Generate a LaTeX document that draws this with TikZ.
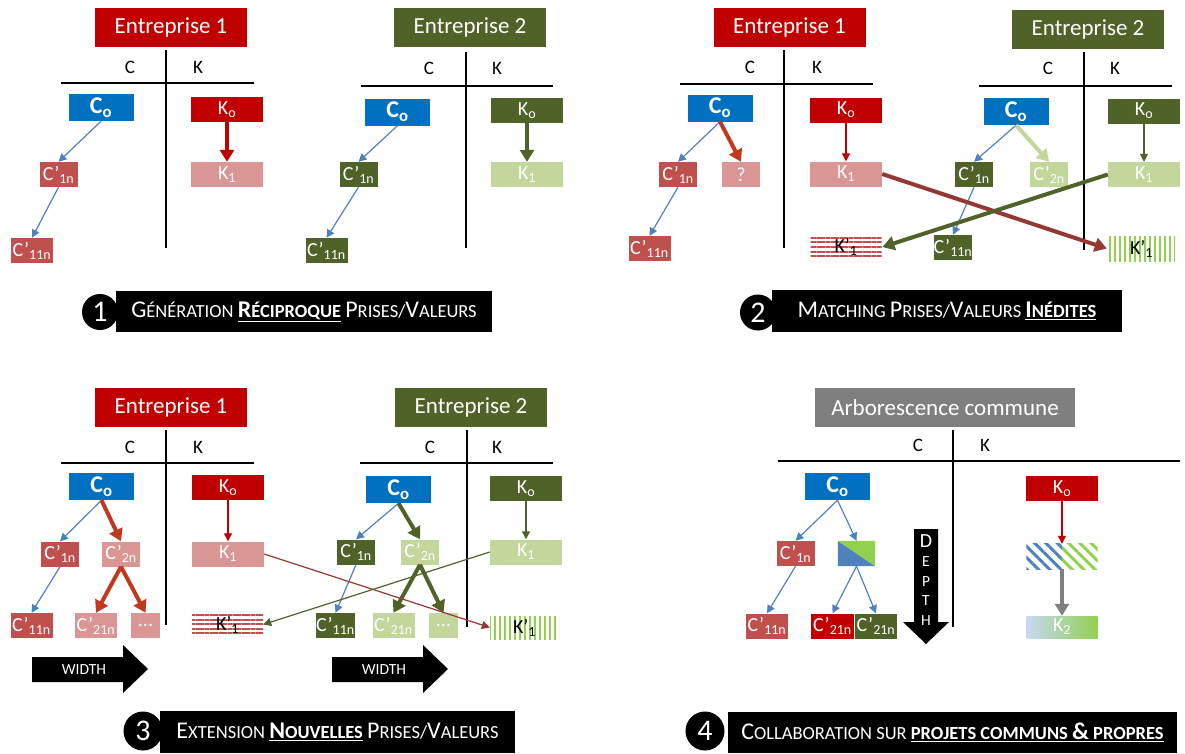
\documentclass[tikz,border=0pt]{standalone}
\usepackage{fontspec}
\setmainfont{Carlito}
\usetikzlibrary{arrows.meta,patterns.meta}

\definecolor{ered}{HTML}{C00000}
\definecolor{egreen}{HTML}{4F6228}
\definecolor{cblue}{HTML}{0070C0}
\definecolor{lred}{HTML}{C0504D}
\definecolor{lpink}{HTML}{D99694}
\definecolor{lgreen}{HTML}{C3D69B}
\definecolor{bgreen}{HTML}{92D050}
\definecolor{arrowblue}{HTML}{4F81BD}
\definecolor{dred}{HTML}{953735}
\definecolor{rust}{HTML}{C0391E}
\definecolor{kblue}{HTML}{C6D9F1}
\definecolor{tgray}{HTML}{7F7F7F}

% bigger first letter for the small caps captions
\newcommand{\capl}[1]{{\fontsize{24}{24}\selectfont #1}}

\begin{document}
\begin{tikzpicture}[x=1pt, y=-1pt,
    title_box/.style={minimum width=152pt, minimum height=39pt, inner sep=0pt, text=white, font=\fontsize{23}{23}\selectfont}, % Entreprise boxes
    co_box/.style={fill=cblue, minimum width=65pt, minimum height=27pt, inner sep=0pt, text=white, font=\bfseries\fontsize{24}{24}\selectfont}, % C_o boxes
    k_box/.style={minimum width=72pt, minimum height=25pt, inner sep=0pt, text=white, font=\fontsize{20}{20}\selectfont}, % K boxes
    c_box/.style={minimum width=38pt, minimum height=25pt, inner sep=0pt, text=white, font=\fontsize{20}{20}\selectfont}, % small C boxes
    w_box/.style={c_box, minimum width=42pt},
    axis_label/.style={font=\fontsize{19}{19}\selectfont},
    thin_arrow/.style={line width=1.2pt, -{Triangle[length=8pt,width=8pt]}},
    thick_arrow/.style={line width=4pt, -{Triangle[length=12pt,width=14pt]}},
    caption_box/.style={fill=black, text=white, inner sep=0pt, font=\fontsize{18.5}{20}\selectfont},
    num_dot/.style={circle, fill=black, text=white, inner sep=0pt, font=\fontsize{30}{30}\selectfont}
]
\useasboundingbox (0,0) rectangle (1185,753);

% ---------------- Panel 1 : Entreprise 1
\node[title_box, fill=ered] (p1aT) at (171,27) {Entreprise 1};
\node[axis_label] (p1aC) at (130,67) {C};
\node[axis_label] (p1aK) at (198,67) {K};
\draw[line width=1.2pt] (61,83) -- (254,83);
\draw[line width=1.2pt] (166,50) -- (166,248);
\node[co_box] (p1aC0) at (101,107.5) {C\textsubscript{o}};
\node[k_box, fill=ered] (p1aK0) at (227,109.5) {K\textsubscript{o}};
\node[c_box, fill=lred] (p1aC1) at (58.5,174.5) {C’\textsubscript{1n}};
\node[k_box, fill=lpink] (p1aK1) at (227,174.5) {K\textsubscript{1}};
\node[w_box, fill=lred] (p1aC11) at (32,250.5) {C’\textsubscript{11n}};
\draw[thin_arrow, arrowblue] (p1aC0.south) -- (p1aC1.north);
\draw[thin_arrow, arrowblue] (p1aC1.south) -- (p1aC11.north);
\draw[thick_arrow, ered] (p1aK0) -- (p1aK1);

% Panel 1 : Entreprise 2
\node[title_box, fill=egreen] (p1bT) at (470,27.5) {Entreprise 2};
\node[axis_label] (p1bC) at (429,68) {C};
\node[axis_label] (p1bK) at (497,68) {K};
\draw[line width=1.2pt] (361,86) -- (553,86);
\draw[line width=1.2pt] (466,52) -- (466,248);
\node[co_box] (p1bC0) at (397.5,112) {C\textsubscript{o}};
\node[k_box, fill=egreen] (p1bK0) at (527,110.5) {K\textsubscript{o}};
\node[c_box, fill=egreen] (p1bC1) at (358.5,174.5) {C’\textsubscript{1n}};
\node[k_box, fill=lgreen] (p1bK1) at (527,174.5) {K\textsubscript{1}};
\node[w_box, fill=egreen] (p1bC11) at (326.5,250.5) {C’\textsubscript{11n}};
\draw[thin_arrow, arrowblue] (p1bC0.south) -- (p1bC1.north);
\draw[thin_arrow, arrowblue] (p1bC1.south) -- (p1bC11.north);
\draw[thick_arrow, egreen] (p1bK0) -- (p1bK1);

% ---------------- Panel 2 : Entreprise 1
\node[title_box, fill=ered] (p2aT) at (789.5,27.5) {Entreprise 1};
\node[axis_label] (p2aC) at (750,67) {C};
\node[axis_label] (p2aK) at (817,67) {K};
\draw[line width=1.2pt] (680,84) -- (873,84);
\draw[line width=1.2pt] (784,50) -- (784,248);
\node[co_box] (p2aC0) at (720,108) {C\textsubscript{o}};
\node[k_box, fill=ered] (p2aK0) at (846,110) {K\textsubscript{o}};
\node[c_box, fill=lred] (p2aC1) at (678,174.5) {C’\textsubscript{1n}};
\node[c_box, fill=lpink] (p2aQ) at (741,174.5) {?};
\node[k_box, fill=lpink] (p2aK1) at (846,174) {K\textsubscript{1}};
\node[w_box, fill=lred] (p2aC11) at (649.5,248.5) {C’\textsubscript{11n}};
\node[k_box, minimum width=71pt, text=black, pattern={Lines[angle=0,distance=4.6pt,line width=1.9pt]}, pattern color=lred] (p2aKp) at (846,247) {K’\textsubscript{1}};
\draw[thin_arrow, arrowblue] (p2aC0.south) -- (p2aC1.north);
\draw[thick_arrow, rust] (p2aC0.south) -- (p2aQ.north);
\draw[thin_arrow, arrowblue] (p2aC1.south) -- (p2aC11.north);
\draw[thin_arrow, ered] (p2aK0) -- (p2aK1);

% Panel 2 : Entreprise 2
\node[title_box, fill=egreen] (p2bT) at (1088,29.5) {Entreprise 2};
\node[axis_label] (p2bC) at (1048,68) {C};
\node[axis_label] (p2bK) at (1115,68) {K};
\draw[line width=1.2pt] (979,86) -- (1172,86);
\draw[line width=1.2pt] (1084,52) -- (1084,250);
\node[co_box] (p2bC0) at (1016,111.5) {C\textsubscript{o}};
\node[k_box, fill=egreen] (p2bK0) at (1144,111) {K\textsubscript{o}};
\node[c_box, fill=egreen] (p2bC1) at (974,174.5) {C’\textsubscript{1n}};
\node[c_box, fill=lgreen] (p2bC2) at (1049,174.5) {C’\textsubscript{2n}};
\node[k_box, fill=lgreen] (p2bK1) at (1144,174.5) {K\textsubscript{1}};
\node[c_box, fill=egreen] (p2bC11) at (953,247.5) {C’\textsubscript{11n}};
\node[k_box, minimum width=67pt, text=black, pattern={Lines[angle=90,distance=5pt,line width=2.5pt]}, pattern color=bgreen] (p2bKp) at (1141.5,248.5) {K’\textsubscript{1}};
\draw[thin_arrow, arrowblue] (p2bC0.south) -- (p2bC1.north);
\draw[thick_arrow, lgreen] (p2bC0.south) -- (p2bC2.north);
\draw[thin_arrow, arrowblue] (p2bC1.south) -- (p2bC11.north);
\draw[thin_arrow, egreen] (p2bK0) -- (p2bK1);

% Panel 2 : matching between the two
\draw[thick_arrow, dred] (p2aK1.east) -- (p2bKp.west);
\draw[thick_arrow, egreen] (p2bK1.west) -- (p2aKp.east);

% ---------------- Panel 3 : Entreprise 1
\node[title_box, fill=ered] (p3aT) at (171,407.5) {Entreprise 1};
\node[axis_label] (p3aC) at (130,447) {C};
\node[axis_label] (p3aK) at (198,447) {K};
\draw[line width=1.2pt] (61,463) -- (254,463);
\draw[line width=1.2pt] (166,430) -- (166,625);
\node[co_box] (p3aC0) at (101.5,486.5) {C\textsubscript{o}};
\node[k_box, fill=ered] (p3aK0) at (228,487.5) {K\textsubscript{o}};
\node[c_box, fill=lred] (p3aC1) at (60,554) {C’\textsubscript{1n}};
\node[c_box, fill=lpink] (p3aC2) at (121,554) {C’\textsubscript{2n}};
\node[k_box, fill=lpink] (p3aK1) at (228,554) {K\textsubscript{1}};
\node[w_box, fill=lred] (p3aC11) at (31.5,625.5) {C’\textsubscript{11n}};
\node[w_box, fill=lpink] (p3aC21) at (96,625.5) {C’\textsubscript{21n}};
\node[c_box, minimum width=29pt, fill=lpink] (p3aD) at (145.5,625.5) {...};
\node[k_box, minimum width=71pt, minimum height=23pt, text=black, pattern={Lines[angle=0,distance=4.6pt,line width=1.9pt]}, pattern color=lred] (p3aKp) at (227.5,624.5) {K’\textsubscript{1}};
\draw[thin_arrow, arrowblue] (p3aC0.south) -- (p3aC1.north);
\draw[thick_arrow, rust] (p3aC0.south) -- (p3aC2.north);
\draw[thin_arrow, arrowblue] (p3aC1.south) -- (p3aC11.north);
\draw[thick_arrow, rust] (p3aC2.south) -- (p3aC21.north);
\draw[thick_arrow, rust] (p3aC2.south) -- (p3aD.north);
\draw[thin_arrow, ered] (p3aK0) -- (p3aK1);
% width arrow
\fill (32,657) -- (123,657) -- (123,645) -- (148,669) -- (123,693) -- (123,682) -- (32,682) -- cycle;
\node[text=white, font=\fontsize{15.5}{15.5}\selectfont] (p3aW) at (84,669.5) {WIDTH};

% Panel 3 : Entreprise 2
\node[title_box, fill=egreen] (p3bT) at (471,407.5) {Entreprise 2};
\node[axis_label] (p3bC) at (430,447) {C};
\node[axis_label] (p3bK) at (497,447) {K};
\draw[line width=1.2pt] (360,463) -- (553,463);
\draw[line width=1.2pt] (467,430) -- (467,627);
\node[co_box] (p3bC0) at (398.5,489.5) {C\textsubscript{o}};
\node[k_box, fill=egreen] (p3bK0) at (526,488.5) {K\textsubscript{o}};
\node[c_box, fill=egreen] (p3bC1) at (356,552) {C’\textsubscript{1n}};
\node[c_box, fill=lgreen] (p3bC2) at (420,552) {C’\textsubscript{2n}};
\node[k_box, fill=lgreen] (p3bK1) at (526,552) {K\textsubscript{1}};
\node[c_box, fill=egreen] (p3bC11) at (335.5,625.5) {C’\textsubscript{11n}};
\node[w_box, fill=lgreen] (p3bC21) at (393.5,625.5) {C’\textsubscript{21n}};
\node[c_box, minimum width=29pt, fill=lgreen] (p3bD) at (443.5,625.5) {...};
\node[k_box, minimum width=69pt, minimum height=23pt, text=black, pattern={Lines[angle=90,distance=5pt,line width=2.5pt]}, pattern color=bgreen] (p3bKp) at (524.5,627.5) {K’\textsubscript{1}};
\draw[thin_arrow, arrowblue] (p3bC0.south) -- (p3bC1.north);
\draw[thick_arrow, egreen] (p3bC0.south) -- (p3bC2.north);
\draw[thin_arrow, arrowblue] (p3bC1.south) -- (p3bC11.north);
\draw[thick_arrow, egreen] (p3bC2.south) -- (p3bC21.north);
\draw[thick_arrow, egreen] (p3bC2.south) -- (p3bD.north);
\draw[thin_arrow, egreen] (p3bK0) -- (p3bK1);
% width arrow
\fill (332,657) -- (423,657) -- (423,645) -- (448,669) -- (423,693) -- (423,682) -- (332,682) -- cycle;
\node[text=white, font=\fontsize{15.5}{15.5}\selectfont] (p3bW) at (384,669.5) {WIDTH};

% Panel 3 : new values exchanged
\draw[thin_arrow, dred] (p3aK1.east) -- (p3bKp.west);
\draw[thin_arrow, egreen] (p3bK1.west) -- (p3aKp.east);

% ---------------- Panel 4 : common tree
\node[title_box, minimum width=260pt, fill=tgray] (p4T) at (945,407.5) {Arborescence commune};
\node[axis_label] (p4C) at (918,445) {C};
\node[axis_label] (p4K) at (985,445) {K};
\draw[line width=1.2pt] (778,461) -- (1180,461);
\draw[line width=1.2pt] (953,430) -- (953,627);
\node[co_box] (p4C0) at (837.5,486.5) {C\textsubscript{o}};
\node[k_box, fill=ered] (p4K0) at (1062,488.5) {K\textsubscript{o}};
\node[c_box, fill=lred] (p4C1) at (795.5,553.5) {C’\textsubscript{1n}};
\node[c_box, minimum width=37pt] (p4S) at (856.5,553.5) {};
\fill[arrowblue] (p4S.north west) -- (p4S.south west) -- (p4S.south east) -- cycle;
\fill[bgreen] (p4S.north west) -- (p4S.north east) -- (p4S.south east) -- cycle;
\node[k_box, minimum width=71pt] (p4H) at (1062,556.5) {};
\path[pattern={Lines[angle=-45,distance=8pt,line width=3pt]}, pattern color=arrowblue] (p4H.north west) rectangle (p4H.south);
\path[pattern={Lines[angle=-45,distance=8pt,line width=3pt]}, pattern color=bgreen] (p4H.north) rectangle (p4H.south east);
\node[w_box, fill=lred] (p4C11) at (767,626) {C’\textsubscript{11n}};
\node[w_box, minimum width=43pt, fill=ered] (p4C21r) at (832.5,626) {C’\textsubscript{21n}};
\node[w_box, fill=egreen] (p4C21g) at (876,626) {C’\textsubscript{21n}};
\node[k_box, minimum width=71pt, minimum height=22pt, left color=kblue, right color=bgreen] (p4K2) at (1062,627) {K\textsubscript{2}};
\draw[thin_arrow, arrowblue] (p4C0.south) -- (p4C1.north);
\draw[thin_arrow, arrowblue] (p4C0.south) -- (p4S.north);
\draw[thin_arrow, arrowblue] (p4C1.south) -- (p4C11.north);
\draw[thin_arrow, arrowblue] (p4S.south) -- (p4C21r.north);
\draw[thin_arrow, arrowblue] (p4S.south) -- (p4C21g.north);
\draw[thin_arrow, ered] (p4K0) -- (p4H);
\draw[thick_arrow, gray] (p4H) -- (p4K2);
% depth arrow
\fill (914,529) -- (938,529) -- (938,622) -- (949,622) -- (926,644) -- (903,622) -- (914,622) -- cycle;
\node[text=white, align=center, font=\fontsize{15.5}{19.5}\selectfont] (p4Dt) at (926,580) {{\fontsize{20}{20}\selectfont D}\\E\\P\\T\\H};

% ---------------- Captions
\node[caption_box, minimum width=376pt, minimum height=41pt] (cap1) at (304,311.5)
    {\capl{G}ÉNÉRATION \underline{\textbf{\capl{R}ÉCIPROQUE}} \capl{P}RISES/\capl{V}ALEURS};
\node[num_dot, minimum size=36pt] (num1) at (100,312) {1};
\node[caption_box, minimum width=350pt, minimum height=42pt] (cap2) at (947,311)
    {\capl{M}ATCHING \capl{P}RISES/\capl{V}ALEURS \underline{\textbf{\capl{I}NÉDITES}}};
\node[num_dot, minimum size=36pt] (num2) at (758,312.5) {2};
\node[caption_box, minimum width=355pt, minimum height=42pt] (cap3) at (337.5,732)
    {\capl{E}XTENSION \underline{\textbf{\capl{N}OUVELLES}} \capl{P}RISES/\capl{V}ALEURS};
\node[num_dot, minimum size=39pt] (num3) at (143,731) {3};
\node[caption_box, minimum width=449pt, minimum height=41pt] (cap4) at (952.5,732.5)
    {\capl{C}OLLABORATION SUR \underline{\textbf{PROJETS COMMUNS \capl{\&} PROPRES}}};
\node[num_dot, minimum size=39pt] (num4) at (705,731) {4};

\end{tikzpicture}
\end{document}
